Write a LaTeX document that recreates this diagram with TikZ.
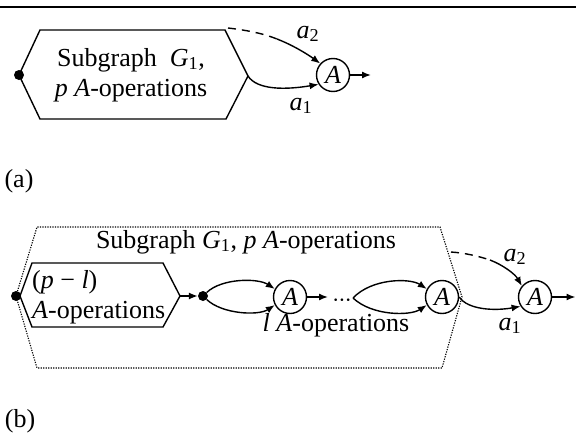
\documentclass[tikz,border=0pt]{standalone}
\usepackage{fontspec}
\setmainfont{Liberation Serif}
\usetikzlibrary{arrows.meta}
\begin{document}
\begin{tikzpicture}[x=1pt,y=-1pt,
  every node/.style={font=\fontsize{26}{30}\selectfont},
  ln/.style={line width=1.4pt},
  arr/.style={ln,-{Latex[length=9pt,width=7pt]}},
  dsh/.style={ln,dash pattern=on 8pt off 6pt},
  dtd/.style={line width=1.1pt,dash pattern=on 1.2pt off 1.3pt},
  opnode/.style={circle,draw,line width=1.4pt,minimum size=33pt,inner sep=0pt},
  dotnode/.style={circle,fill,minimum size=10pt,inner sep=0pt},
  txt/.style={inner sep=0pt}]
\useasboundingbox (0,0) rectangle (576,434);
\coordinate (rl) at (0,7);
\coordinate (rr) at (576,7);
\draw[line width=1.6pt] (rl) -- (rr);

% ---------- (a)
\coordinate (hL) at (19,75);
\coordinate (hTL) at (40,30);
\coordinate (hTR) at (225,30);
\coordinate (hR) at (248,76);
\coordinate (hBR) at (226,119);
\coordinate (hBL) at (40,119);
\draw[ln,line join=miter] (hL) -- (hTL) -- (hTR) -- (hR) -- (hBR) -- (hBL) -- cycle;
\node[dotnode] (da) at (hL) {};
\node[txt,align=center] (ta) at (131,75) {Subgraph\ \ \textit{G}\textsubscript{1},\\\textit{p A}-operations};
\node[opnode] (A1) at (333,75) {\textit{A}};
\coordinate (oa) at (371,75);
\draw[arr] (A1) -- (oa);
\coordinate (a2s) at (228,28);
\coordinate (a2m) at (277,39);
\draw[dsh] (a2s) .. controls (245,30) and (262,33) .. (a2m);
\draw[arr] (a2m) .. controls (295,46) and (310,56) .. (A1.138);
\draw[arr] (hR) .. controls (257,90) and (285,90) .. (A1.213);
\node[txt] (la2) at (308,34) {\textit{a}\textsubscript{2}};
\node[txt] (la1) at (301,106) {\textit{a}\textsubscript{1}};
\node[txt] (capa) at (19,181) {(a)};

% ---------- (b)
\coordinate (oL) at (16,296);
\coordinate (oTL) at (37,227);
\coordinate (oTR) at (440,227);
\coordinate (oR) at (462,297);
\coordinate (oBR) at (442,368);
\coordinate (oBL) at (37,368);
\draw[dtd] (oL) -- (oTL) -- (oTR) -- (oR) -- (oBR) -- (oBL) -- cycle;
\coordinate (iL) at (20,296);
\coordinate (iTL) at (32,263);
\coordinate (iTR) at (163,263);
\coordinate (iR) at (180,296);
\coordinate (iBR) at (163,327);
\coordinate (iBL) at (32,327);
\draw[ln,line join=miter] (iL) -- (iTL) -- (iTR) -- (iR) -- (iBR) -- (iBL) -- cycle;
\node[dotnode] (db) at (oL) {};
\node[txt,align=left,anchor=west] (tin) at (32,297) {(\textit{p} − \textit{l})\\\textit{A}-operations};
\node[txt] (tsub) at (246,242) {Subgraph \textit{G}\textsubscript{1}, \textit{p A}-operations};
\node[dotnode] (d2) at (203,296) {};
\draw[arr] (iR) -- (d2);
\node[opnode] (B1) at (290,297) {\textit{A}};
\draw[arr] (d2) .. controls (222,278) and (258,278) .. (B1.152);
\draw[arr] (d2) .. controls (222,314) and (258,316) .. (B1.208);
\coordinate (b1o) at (328,297);
\draw[arr] (B1) -- (b1o);
\node[txt,font=\fontsize{22}{22}\selectfont] (dots) at (342,303) {·\kern-1pt·\kern-1pt·};
\coordinate (l2) at (353,298);
\node[opnode] (B2) at (442,297) {\textit{A}};
\draw[arr] (l2) .. controls (372,278) and (410,278) .. (B2.152);
\draw[arr] (l2) .. controls (372,316) and (410,316) .. (B2.208);
\node[txt] (tl) at (336,325) {\textit{l A}-operations};
\node[opnode] (B3) at (535,297) {\textit{A}};
\coordinate (b3o) at (575.5,297);
\draw[arr] (B3) -- (b3o);
\coordinate (b2s) at (451,252);
\coordinate (b2m) at (490,260);
\draw[dsh] (b2s) .. controls (465,253) and (478,256) .. (b2m);
\draw[arr] (b2m) .. controls (503,265) and (515,274) .. (B3.140);
\draw[arr] (B2.east) .. controls (468,310) and (495,311) .. (B3.213);
\node[txt] (lb2) at (515,257) {\textit{a}\textsubscript{2}};
\node[txt] (lb1) at (510,326) {\textit{a}\textsubscript{1}};
\node[txt] (capb) at (20,421) {(b)};
\end{tikzpicture}
\end{document}
